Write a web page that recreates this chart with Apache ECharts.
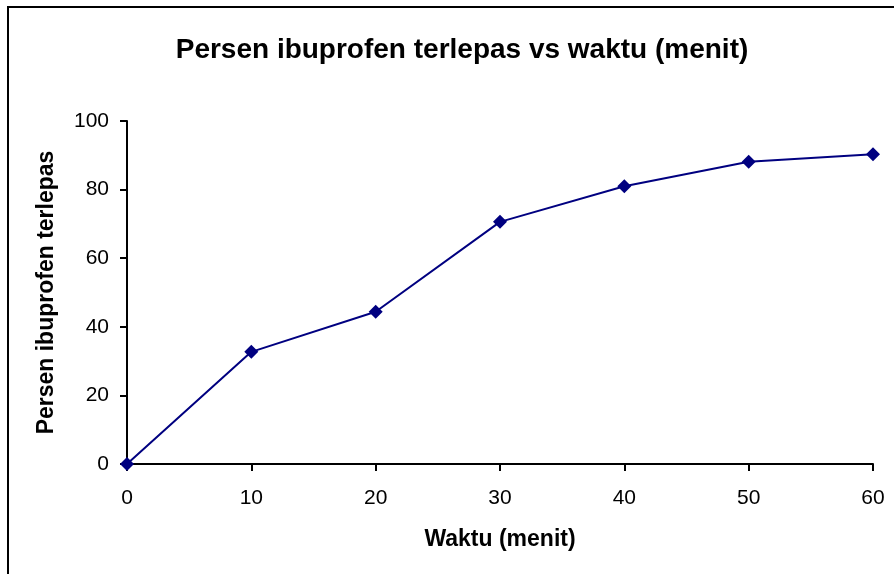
<!DOCTYPE html>
<html>
<head>
<meta charset="utf-8">
<script src="https://cdn.jsdelivr.net/npm/echarts@6/dist/echarts.min.js"></script>
<style>
  html, body { margin: 0; padding: 0; background: #fff; }
  #chart { width: 894px; height: 574px; }
</style>
</head>
<body>
<div id="chart"></div>
<script>
// data
var waktu = [0, 10, 20, 30, 40, 50, 60];
var persenTerlepas = [0, 32.7, 44.4, 70.6, 81.0, 88.1, 90.3];

var titleText = 'Persen ibuprofen terlepas vs waktu (menit)';
var xName = 'Waktu (menit)';
var yName = 'Persen ibuprofen terlepas';

var points = waktu.map(function (t, i) { return [t, persenTerlepas[i]]; });

var myChart = echarts.init(document.getElementById('chart'));
var font = 'Liberation Sans, Arial, sans-serif';

var option = {
    backgroundColor: '#fff',
    animation: false,
    // outer frame of the chart area
    graphic: [{
        type: 'rect',
        shape: { x: 8, y: 7, width: 1000, height: 700 },
        style: { fill: 'none', stroke: '#000', lineWidth: 2 }
    }],
    title: {
        text: titleText,
        left: 457,
        top: 31,
        textAlign: 'center',
        textStyle: { fontFamily: font, fontSize: 28, fontWeight: 'bold', color: '#000' }
    },
    grid: { left: 127, right: 21, top: 121, bottom: 110 },
    xAxis: {
        type: 'value',
        min: 0, max: 60, interval: 10,
        name: xName,
        nameLocation: 'middle',
        nameGap: 64,
        nameTextStyle: { fontFamily: font, fontSize: 23, fontWeight: 'bold', color: '#000' },
        axisLine: { show: true, lineStyle: { color: '#000', width: 2 } },
        axisTick: { show: true, length: 7, lineStyle: { color: '#000', width: 2 } },
        axisLabel: { margin: 24, fontFamily: font, fontSize: 21, color: '#000' },
        splitLine: { show: false }
    },
    yAxis: {
        type: 'value',
        min: 0, max: 100, interval: 20,
        name: yName,
        nameLocation: 'middle',
        nameGap: 69,
        nameTextStyle: { fontFamily: font, fontSize: 23, fontWeight: 'bold', color: '#000' },
        axisLine: { show: true, lineStyle: { color: '#000', width: 2 } },
        axisTick: { show: true, length: 7, lineStyle: { color: '#000', width: 2 } },
        axisLabel: { margin: 18, fontFamily: font, fontSize: 21, color: '#000' },
        splitLine: { show: false }
    },
    series: [{
        type: 'line',
        data: points,
        symbol: 'diamond',
        symbolSize: 14,
        color: '#000080',
        lineStyle: { color: '#000080', width: 2 },
        itemStyle: { color: '#000080' }
    }]
};
myChart.setOption(option);
</script>
</body>
</html>
